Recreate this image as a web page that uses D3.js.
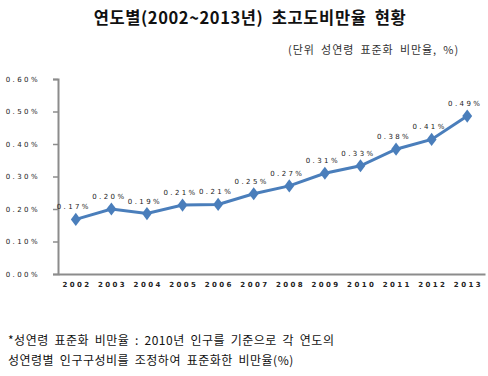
<!DOCTYPE html>
<html>
<head>
<meta charset="utf-8">
<script src="https://cdn.jsdelivr.net/npm/d3@7"></script>
<style>
  body { margin: 0; background: #fff; }
  svg { display: block; }
  .tick-lbl { font-family: "DejaVu Sans", sans-serif; font-size: 7px; letter-spacing: 2.4px; fill: #222; }
  .kr { font-family: "Noto Sans CJK KR", sans-serif; fill: #111; }
</style>
</head>
<body>
<div id="chart"></div>
<script>
// 연도별 초고도비만율 (성연령 표준화, %)
const years = ["2002", "2003", "2004", "2005", "2006", "2007", "2008", "2009", "2010", "2011", "2012", "2013"];
const rates = [0.168, 0.200, 0.186, 0.212, 0.214, 0.247, 0.271, 0.310, 0.333, 0.384, 0.414, 0.486];
const yTicks = [0, 0.1, 0.2, 0.3, 0.4, 0.5, 0.6];

const W = 488, H = 376;
const m = { top: 79, right: 3, bottom: 102, left: 58 };
const iw = W - m.left - m.right, ih = H - m.top - m.bottom;

const svg = d3.select("#chart").append("svg").attr("width", W).attr("height", H);

svg.append("text").attr("class", "kr")
  .attr("x", 250).attr("y", 24).attr("text-anchor", "middle")
  .attr("font-size", 16.5).attr("font-weight", "bold")
  .style("letter-spacing", "0.6px").style("word-spacing", "4px")
  .text("연도별(2002~2013년) 초고도비만율 현황");
svg.append("text").attr("class", "kr")
  .attr("x", 459).attr("y", 54).attr("text-anchor", "end")
  .attr("font-size", 11).style("fill", "#333")
  .style("letter-spacing", "0.9px").style("word-spacing", "3px")
  .text("(단위 성연령 표준화 비만율, %)");

const g = svg.append("g").attr("transform", `translate(${m.left},${m.top})`);

const x = d3.scaleBand().domain(years).range([0, iw]);
const y = d3.scaleLinear().domain([0, 0.6]).range([ih, 0]);
const fmt = d3.format(".2f");

// y축
const gy = g.append("g")
  .call(d3.axisLeft(y).tickValues(yTicks).tickSize(5).tickPadding(13).tickFormat((d) => fmt(d) + "%"));
gy.select(".domain").attr("stroke", "#8c8c8c").attr("stroke-width", 2);
gy.selectAll(".tick line").attr("stroke", "#8c8c8c").attr("stroke-width", 1.5);
gy.selectAll(".tick text").attr("class", "tick-lbl").attr("font-size", null).attr("font-family", null);

// x축 (밴드 경계에 눈금)
const gx = g.append("g").attr("transform", `translate(0,${ih})`)
  .call(d3.axisBottom(x).tickSize(0).tickPadding(8));
gx.select(".domain").attr("stroke", "#8c8c8c").attr("stroke-width", 2);
gx.selectAll(".tick text").attr("class", "tick-lbl").attr("font-size", null).attr("font-family", null)
  .attr("dx", "1.2px").attr("font-weight", "600");
gx.selectAll(".bound").data(years).join("line")
  .attr("x1", (d) => x(d)).attr("x2", (d) => x(d))
  .attr("y1", ih).attr("y2", ih + 4)
  .attr("stroke", "#8c8c8c").attr("stroke-width", 1.5);
gx.append("line").attr("x1", iw).attr("x2", iw).attr("y1", ih).attr("y2", ih + 4)
  .attr("stroke", "#8c8c8c").attr("stroke-width", 1.5);

const cx = (i) => x(years[i]) + x.bandwidth() / 2;
const line = d3.line().x((d, i) => cx(i)).y((d) => y(d));

g.append("path").datum(rates)
  .attr("fill", "none").attr("stroke", "#4a7ebb").attr("stroke-width", 3)
  .attr("d", line);

g.selectAll(".pt").data(rates).join("path")
  .attr("transform", (d, i) => `translate(${cx(i)},${y(d)}) scale(1.3,1)`)
  .attr("d", d3.symbol(d3.symbolDiamond, 50))
  .attr("fill", "#4a7ebb");

g.selectAll(".lbl").data(rates).join("text")
  .attr("class", "tick-lbl")
  .attr("x", (d, i) => cx(i) - 2).attr("y", (d) => y(d) - 10)
  .attr("text-anchor", "middle")
  .text((d) => fmt(d) + "%");

// 각주
svg.append("text").attr("class", "kr").attr("x", 8).attr("y", 345).attr("font-size", 12)
  .style("letter-spacing", "0.5px").style("word-spacing", "2.5px")
  .text("*성연령 표준화 비만율 : 2010년 인구를 기준으로 각 연도의");
svg.append("text").attr("class", "kr").attr("x", 8).attr("y", 365).attr("font-size", 12)
  .style("letter-spacing", "0.5px").style("word-spacing", "2.5px")
  .text("성연령별 인구구성비를 조정하여 표준화한 비만율(%)");
</script>
</body>
</html>
